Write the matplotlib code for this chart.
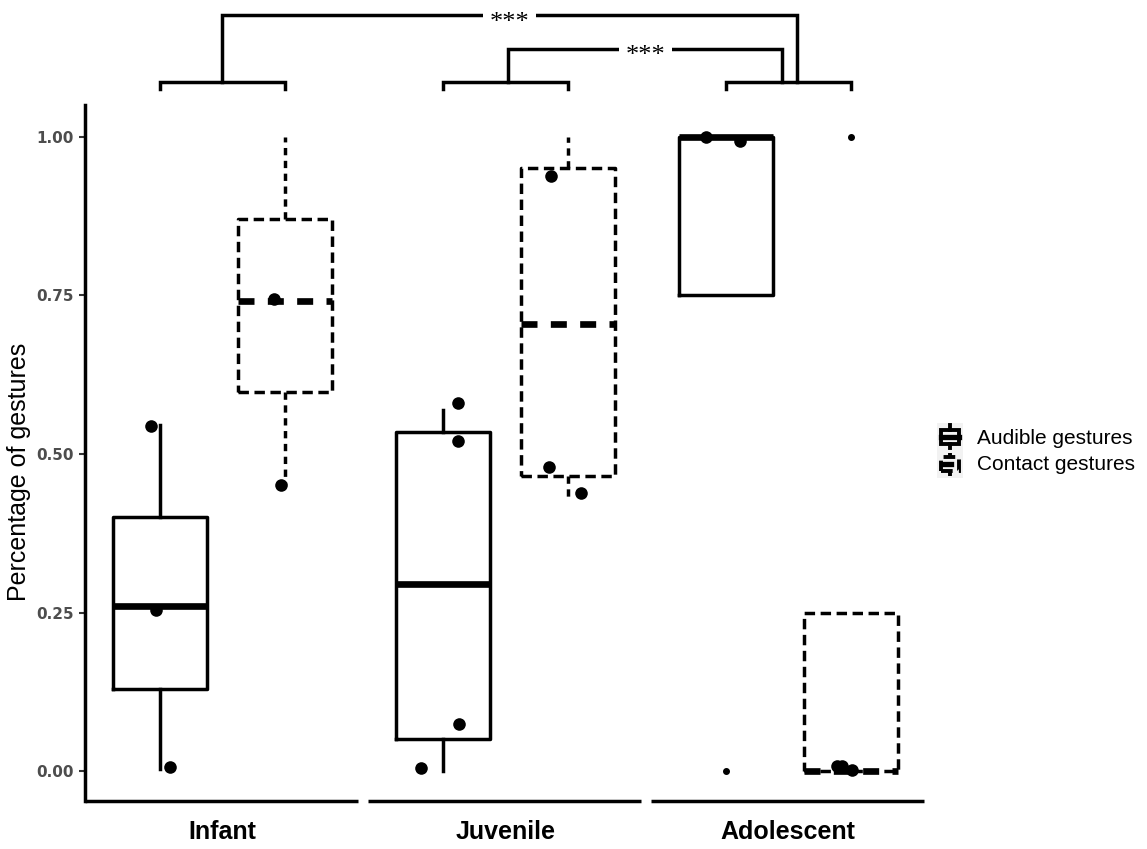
import matplotlib.pyplot as plt
from matplotlib.patches import Rectangle

# age groups on the x axis and the two gesture types
groups = ['Infant', 'Juvenile', 'Adolescent']
series = ['Audible gestures', 'Contact gestures']

# box summaries per age group
audible_q1 = [0.13, 0.05, 0.75]
audible_med = [0.26, 0.295, 1.0]
audible_q3 = [0.40, 0.535, 1.0]
audible_lo = [0.003, 0.0, 0.75]
audible_hi = [0.545, 0.57, 1.0]
audible_out = [[], [], [0.0]]

contact_q1 = [0.598, 0.465, 0.0]
contact_med = [0.741, 0.705, 0.0]
contact_q3 = [0.871, 0.95, 0.25]
contact_lo = [0.451, 0.432, 0.0]
contact_hi = [1.0, 1.0, 0.25]
contact_out = [[], [], [1.0]]

# individual proportions drawn as jittered points
audible_pts = [[0.544, 0.254, 0.007], [0.58, 0.52, 0.074, 0.005], [1.0, 0.993]]
contact_pts = [[0.745, 0.451], [0.938, 0.479, 0.438], [0.008, 0.008, 0.002]]
audible_jit = [[-0.032, -0.014, 0.035], [0.053, 0.053, 0.057, -0.078], [-0.069, 0.051]]
contact_jit = [[-0.039, -0.014], [-0.060, -0.067, 0.046], [-0.048, -0.030, 0.005]]

yticks = [0.0, 0.25, 0.5, 0.75, 1.0]
ytick_labels = ['0.00', '0.25', '0.50', '0.75', '1.00']

dodge = 0.221
box_w = 0.333
lw = 2.5

fig = plt.figure(figsize=(11.47, 8.49), dpi=100)
ax = fig.add_axes([0.0741, 0.0565, 0.7324, 0.8198])
ax.set_xlim(0.514, 3.484)
ax.set_ylim(-0.047, 1.05)

centers = list(range(1, len(groups) + 1))


def make_stats(q1, med, q3, lo, hi, out):
    return [dict(q1=a, med=b, q3=c, whislo=d, whishi=e, fliers=f)
            for a, b, c, d, e, f in zip(q1, med, q3, lo, hi, out)]


styles = {
    'solid': dict(box='-', med='-', whisk='-'),
    'dashed': dict(box=(0, (3.0, 1.6)), med=(0, (2.4, 2.0)), whisk=(0, (2.1, 1.6))),
}


def draw_boxes(stats, pos, st):
    ax.bxp(stats, positions=pos, widths=box_w, showcaps=False, patch_artist=False,
           manage_ticks=False,
           boxprops=dict(color='black', linewidth=lw, linestyle=st['box']),
           medianprops=dict(color='black', linewidth=4.8, linestyle=st['med'],
                            solid_capstyle='butt'),
           whiskerprops=dict(color='black', linewidth=lw, linestyle=st['whisk']),
           flierprops=dict(marker='o', markersize=4, markerfacecolor='black',
                           markeredgecolor='black', linestyle='none'),
           zorder=3)


pos_a = [c - dodge for c in centers]
pos_c = [c + dodge for c in centers]
draw_boxes(make_stats(audible_q1, audible_med, audible_q3, audible_lo, audible_hi, audible_out),
           pos_a, styles['solid'])
draw_boxes(make_stats(contact_q1, contact_med, contact_q3, contact_lo, contact_hi, contact_out),
           pos_c, styles['dashed'])

# jittered points
for p, vals, jit in zip(pos_a, audible_pts, audible_jit):
    ax.scatter([p + j for j in jit], vals, s=82, color='black', zorder=2, linewidths=0)
for p, vals, jit in zip(pos_c, contact_pts, contact_jit):
    ax.scatter([p + j for j in jit], vals, s=82, color='black', zorder=2, linewidths=0)

# axes styling
for s in ['top', 'right', 'bottom']:
    ax.spines[s].set_visible(False)
ax.spines['left'].set_linewidth(lw)
ax.set_yticks(yticks)
ax.set_yticklabels(ytick_labels, fontsize=11, fontweight='bold', color='#4d4d4d',
                   family='DejaVu Sans')
ax.tick_params(axis='y', length=4, width=1.5, color='#333333', pad=4)
ax.set_xticks(centers)
ax.set_xticklabels(groups, fontsize=18, fontweight='bold', family='Liberation Sans')
ax.tick_params(axis='x', length=0, pad=14)
ax.set_ylabel('Percentage of gestures', fontsize=18, family='Liberation Sans')
ax.yaxis.set_label_coords(-0.064, 0.473)

# separate baseline segment under each age group
y0 = ax.get_ylim()[0]
for c in centers:
    ax.plot([max(c - 0.485, 0.514), min(c + 0.48, 3.484)], [y0, y0], color='black',
            lw=lw, clip_on=False, solid_capstyle='butt')

# pairwise brackets within each age group
br_y, br_tick = 1.087, 1.076
for a, b in zip(pos_a, pos_c):
    ax.plot([a, a, b, b], [br_tick, br_y, br_y, br_tick], color='black', lw=lw,
            clip_on=False, solid_joinstyle='miter')


def sig_bar(x1, x2, y, label):
    ax.plot([x1, x1, x2, x2], [br_y, y, y, br_y], color='black', lw=lw,
            clip_on=False, solid_joinstyle='miter')
    ax.text((x1 + x2) / 2, y - 0.012, label, ha='center', va='center', fontsize=19,
            family='Liberation Serif', clip_on=False,
            bbox=dict(facecolor='white', edgecolor='none', pad=5))


sig_bar(1.0, 3.03, 1.192, '***')
sig_bar(2.01, 2.98, 1.139, '***')

# legend
kax = fig.add_axes([937 / 1147, (849 - 478) / 849, 26 / 1147, 55 / 849])
kax.set_xlim(0, 1)
kax.set_ylim(0, 2)
kax.set_facecolor('#f2f2f2')
kax.set_xticks([])
kax.set_yticks([])
for s in kax.spines.values():
    s.set_visible(False)
key_styles = [styles['solid'], styles['dashed']]
for i, st in enumerate(key_styles):
    base = 1 - i
    kax.plot([0.5, 0.5], [base + 0.08, base + 0.25], color='black', lw=2.8,
             linestyle=st['whisk'])
    kax.plot([0.5, 0.5], [base + 0.75, base + 0.92], color='black', lw=2.8,
             linestyle=st['whisk'])
    kax.add_patch(Rectangle((0.15, base + 0.25), 0.7, 0.5, fill=False, edgecolor='black',
                            lw=2.8, linestyle=st['box']))
    kax.plot([0.15, 0.85], [base + 0.5, base + 0.5], color='black', lw=3.8,
             linestyle=st['med'])
    fig.text(977 / 1147, (849 - 438 - 27 * i) / 849, series[i], fontsize=15,
             family='Liberation Sans', va='center', ha='left')

fig.savefig('out.png', dpi=100)
